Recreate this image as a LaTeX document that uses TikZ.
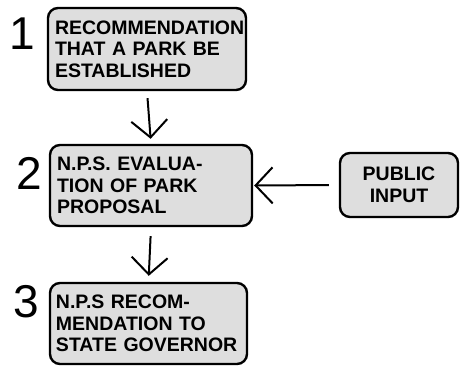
\documentclass[tikz,border=0pt]{standalone}
\usepackage{fontspec}
\setmainfont{Liberation Sans}
\usetikzlibrary{arrows.meta}
\begin{document}
\begin{tikzpicture}[x=1pt,y=-1pt,
  stepbox/.style={draw=black, line width=2.4pt, rounded corners=10pt, fill=black!13,
    inner sep=0pt, align=left, font=\fontsize{19.5}{21.5}\selectfont\bfseries},
  numlabel/.style={font=\fontsize{46}{46}\selectfont, inner sep=0pt},
  flow/.style={line width=2pt, -{Straight Barb[length=17pt,width=36pt,line width=2pt]}}]
\useasboundingbox (0,0) rectangle (461,371);
\node[stepbox, minimum width=198pt, minimum height=82pt, text width=184pt] (b1) at (147,49)
  {RECOMMENDATION\\THAT A PARK BE\\ESTABLISHED};
\node[stepbox, minimum width=202pt, minimum height=81pt, text width=188pt] (b2) at (151,185.5)
  {N.P.S. EVALUA-\\TION OF PARK\\PROPOSAL};
\node[stepbox, minimum width=197pt, minimum height=81pt, text width=185pt] (b3) at (148.5,323.5)
  {N.P.S RECOM-\\MENDATION TO\\STATE GOVERNOR};
\node[stepbox, minimum width=118pt, minimum height=64pt, align=center] (pi) at (399,185)
  {PUBLIC\\INPUT};
\node[numlabel] (n1) at (22,34) {1};
\node[numlabel] (n2) at (29,173) {2};
\node[numlabel] (n3) at (26,302) {3};
\draw[flow, shorten <=7pt, shorten >=5pt] (b1.south) -- (b2.north);
\draw[flow, shorten <=9pt, shorten >=6pt] (b2.south) -- (b3.north);
\draw[flow, shorten <=10pt, shorten >=1pt] (pi.west) -- (b2.east);
\end{tikzpicture}
\end{document}
